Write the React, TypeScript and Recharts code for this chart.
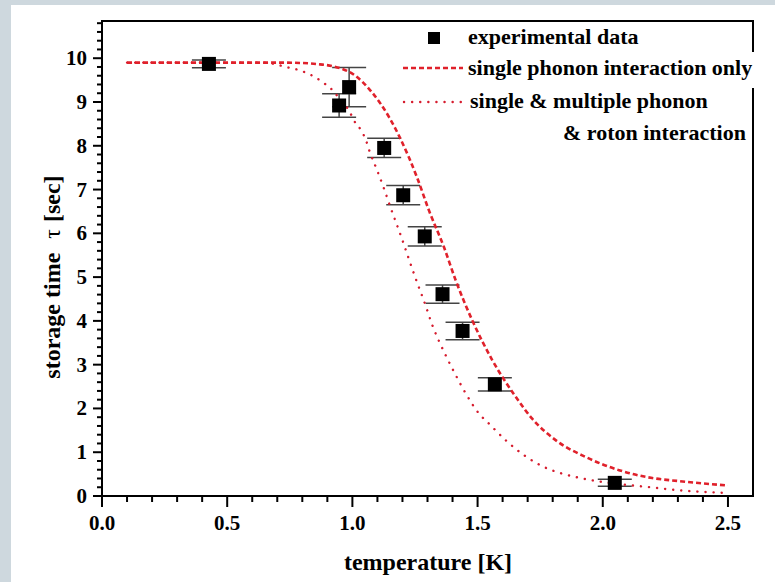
import React from 'react'
import {
  ComposedChart,
  ErrorBar,
  Label,
  Legend,
  Line,
  ReferenceArea,
  Scatter,
  XAxis,
  YAxis,
} from 'recharts'

// measured storage times
const tempK = [0.427, 0.947, 0.987, 1.127, 1.203, 1.289, 1.36, 1.44, 1.569, 2.048]
const tauSec = [9.87, 8.92, 9.34, 7.95, 6.87, 5.93, 4.61, 3.77, 2.55, 0.3]
const tauErr = [0.09, 0.27, 0.45, 0.22, 0.22, 0.22, 0.21, 0.2, 0.15, 0.08]

// model: single phonon interaction only
const singleT = [
  0.1, 0.3, 0.5, 0.7, 0.8, 0.87, 0.92, 1.014, 1.074, 1.147, 1.226, 1.258, 1.306,
  1.366, 1.413, 1.479, 1.559, 1.653, 1.719, 1.813, 1.932, 2.065, 2.198, 2.305, 2.5,
]
const singleTau = [
  9.9, 9.9, 9.9, 9.9, 9.89, 9.86, 9.82, 9.59, 9.25, 8.65, 7.73, 7.28, 6.52,
  5.68, 4.92, 4.01, 3.1, 2.26, 1.76, 1.27, 0.89, 0.59, 0.41, 0.34, 0.24,
]

// model: single & multiple phonon & roton interaction
const multiT = [
  0.1, 0.4, 0.65, 0.694, 0.734, 0.774, 0.814, 0.847, 0.887, 0.924, 0.954, 0.987,
  1.007, 1.034, 1.054, 1.067, 1.1, 1.127, 1.153, 1.197, 1.224, 1.25, 1.293, 1.32,
  1.353, 1.373, 1.41, 1.453, 1.506, 1.546, 1.613, 1.686, 1.766, 1.839, 1.919,
  2.052, 2.172, 2.305, 2.5,
]
const multiTau = [
  9.9, 9.9, 9.9, 9.86, 9.8, 9.75, 9.67, 9.58, 9.43, 9.25, 9.03, 8.8,
  8.57, 8.36, 8.13, 7.9, 7.42, 7.01, 6.58, 5.89, 5.44, 5.01, 4.34, 3.89,
  3.45, 3.21, 2.79, 2.34, 1.88, 1.65, 1.27, 0.93, 0.66, 0.51, 0.4,
  0.28, 0.21, 0.13, 0.07,
]

const xTicks = [
  0, 0.1, 0.2, 0.3, 0.4, 0.5, 0.6, 0.7, 0.8, 0.9, 1, 1.1, 1.2, 1.3, 1.4, 1.5,
  1.6, 1.7, 1.8, 1.9, 2, 2.1, 2.2, 2.3, 2.4, 2.5,
]
const yTicks = [
  0, 0.2, 0.4, 0.6, 0.8, 1, 1.2, 1.4, 1.6, 1.8, 2, 2.2, 2.4, 2.6, 2.8, 3, 3.2,
  3.4, 3.6, 3.8, 4, 4.2, 4.4, 4.6, 4.8, 5, 5.2, 5.4, 5.6, 5.8, 6, 6.2, 6.4, 6.6,
  6.8, 7, 7.2, 7.4, 7.6, 7.8, 8, 8.2, 8.4, 8.6, 8.8, 9, 9.2, 9.4, 9.6, 9.8, 10,
  10.2, 10.4, 10.6, 10.8,
]

const expData = tempK.map((x, i) => ({ x, y: tauSec[i], err: tauErr[i] }))
const singleData = singleT.map((x, i) => ({ x, y: singleTau[i] }))
const multiData = multiT.map((x, i) => ({ x, y: multiTau[i] }))

const FONT = '"Liberation Serif", "Times New Roman", serif'
const RED = '#e0212b'
const RED_DOT = '#d61c2e'

const isMajor = (v: number, step: number) =>
  Math.abs(v / step - Math.round(v / step)) < 1e-6

function XTick({ x, y, payload }: any) {
  const major = isMajor(payload.value, 0.5)
  return (
    <g>
      <line x1={x} x2={x} y1={y} y2={y + (major ? 11 : 6)} stroke="#000" strokeWidth={2} />
      {major && (
        <text
          x={x}
          y={y + 34}
          textAnchor="middle"
          fontFamily={FONT}
          fontWeight="bold"
          fontSize={21}
          fill="#000"
        >
          {payload.value.toFixed(1)}
        </text>
      )}
    </g>
  )
}

function YTick({ x, y, payload }: any) {
  const major = isMajor(payload.value, 1)
  return (
    <g>
      <line x1={x - (major ? 9 : 5)} x2={x} y1={y} y2={y} stroke="#000" strokeWidth={2} />
      {major && (
        <text
          x={x - 15}
          y={y + 7}
          textAnchor="end"
          fontFamily={FONT}
          fontWeight="bold"
          fontSize={21}
          fill="#000"
        >
          {payload.value}
        </text>
      )}
    </g>
  )
}

const xTitle = () => (
  <text x={428} y={570} textAnchor="middle" fontFamily={FONT} fontWeight="bold" fontSize={24} fill="#000">
    temperature [K]
  </text>
)

const yTitle = () => (
  <text
    transform="translate(60,277) rotate(-90)"
    textAnchor="middle"
    fontFamily={FONT}
    fontWeight="bold"
    fontSize={24}
    fill="#000"
  >
    storage time
    <tspan dx={14} fontWeight="normal">τ</tspan>
    <tspan dx={7}>[sec]</tspan>
  </text>
)

const square = ({ cx, cy }: any) => <rect x={cx - 7} y={cy - 7} width={14} height={14} fill="#000" />

const legendText = { fontFamily: FONT, fontWeight: 'bold' as const, fontSize: 22, fill: '#000' }

const renderLegend = () => (
  <svg width={370} height={130} style={{ display: 'block', overflow: 'visible' }}>
    <rect x={28} y={12} width={12} height={12} fill="#000" />
    <text x={68} y={24} {...legendText}>experimental data</text>
    <line x1={3} x2={63} y1={48} y2={48} stroke={RED} strokeWidth={2.5} strokeDasharray="5 3" />
    <rect x={66} y={32} width={296} height={36} fill="#fff" />
    <text x={68} y={55} {...legendText}>single phonon interaction only</text>
    <line
      x1={4}
      x2={63}
      y1={82}
      y2={82}
      stroke={RED_DOT}
      strokeWidth={2.4}
      strokeDasharray="0.1 8"
      strokeLinecap="round"
    />
    <text x={70} y={88} {...legendText}>single &amp; multiple phonon</text>
    <text x={163} y={120} {...legendText}>&amp; roton interaction</text>
  </svg>
)

export default function App() {
  return (
    <div
      style={{
        position: 'absolute',
        left: 0,
        top: 0,
        width: 775,
        height: 582,
        background: '#ced8de',
        overflow: 'hidden',
      }}
    >
      <div style={{ position: 'absolute', left: 11, top: 5, right: 0, bottom: 0, background: '#fff' }} />
      <div style={{ position: 'absolute', left: 0, top: 0 }}>
        <ComposedChart
          width={775}
          height={582}
          margin={{ top: 21, right: 22, left: 42, bottom: 6 }}
        >
          <XAxis
            type="number"
            dataKey="x"
            domain={[0, 2.6]}
            ticks={xTicks}
            interval={0}
            tickSize={0}
            tickMargin={0}
            tickLine={false}
            tick={<XTick />}
            axisLine={{ stroke: '#000', strokeWidth: 2 }}
            height={80}
            allowDataOverflow
          >
            <Label content={xTitle} />
          </XAxis>
          <YAxis
            type="number"
            dataKey="y"
            domain={[0, 10.85]}
            ticks={yTicks}
            interval={0}
            tickSize={0}
            tickMargin={0}
            tickLine={false}
            tick={<YTick />}
            axisLine={{ stroke: '#000', strokeWidth: 2 }}
            width={60}
            allowDataOverflow
          >
            <Label content={yTitle} />
          </YAxis>
          <ReferenceArea
            x1={0}
            x2={2.6}
            y1={0}
            y2={10.85}
            fill="none"
            fillOpacity={0}
            stroke="#000"
            strokeWidth={2}
          />
          <Scatter data={expData} dataKey="y" shape={square} isAnimationActive={false}>
            <ErrorBar dataKey="err" direction="y" width={17} stroke="#444" strokeWidth={1.5} />
          </Scatter>
          <Line
            data={multiData}
            dataKey="y"
            type="monotone"
            stroke={RED_DOT}
            strokeWidth={2.4}
            strokeDasharray="0.1 8"
            strokeLinecap="round"
            dot={false}
            activeDot={false}
            isAnimationActive={false}
          />
          <Line
            data={singleData}
            dataKey="y"
            type="monotone"
            stroke={RED}
            strokeWidth={2.6}
            strokeDasharray="5 3"
            dot={false}
            activeDot={false}
            isAnimationActive={false}
          />
          <Legend
            content={renderLegend}
            layout="horizontal"
            verticalAlign="middle"
            align="center"
            wrapperStyle={{ position: 'absolute', left: 400, top: 20, width: 370, height: 130 }}
          />
        </ComposedChart>
      </div>
    </div>
  )
}
